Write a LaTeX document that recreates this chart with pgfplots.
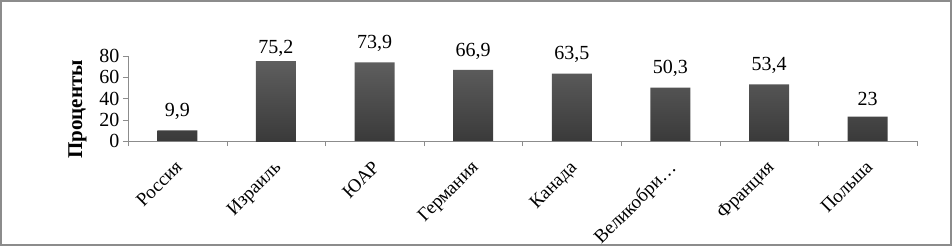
\documentclass[border=0pt]{standalone}
\usepackage{pgfplots}
\pgfplotsset{compat=1.18}
\usepackage{fontspec}
\setmainfont{Liberation Serif}
\definecolor{axgray}{HTML}{8C8C8C}
\definecolor{bartop}{HTML}{5E5E5E}
\definecolor{barbot}{HTML}{3A3A3A}
\begin{document}
\begin{tikzpicture}
\begin{axis}[
  name=ax,
  at={(0,0)}, anchor=south west,
  scale only axis, width=789pt, height=85pt,
  xmin=-0.5, xmax=7.5, ymin=0, ymax=80,
  axis lines*=left,
  axis line style={draw=axgray},
  clip=false,
  /pgf/number format/assume math mode=true,
  ytick={0,20,40,60,80},
  xtick={0,...,7},
  xticklabels={Россия,Израиль,ЮАР,Германия,Канада,Великобри…,Франция,Польша},
  minor xtick={-0.5,0.5,...,7.5},
  tick align=outside,
  major tick length=5pt, minor tick length=5pt,
  major x tick style={draw=none},
  minor x tick style={draw=axgray},
  major y tick style={draw=axgray},
  yticklabel style={font=\fontsize{20}{22}\selectfont},
  xticklabel style={font=\fontsize{19}{22}\selectfont, xshift=-3pt, yshift=-12pt, rotate=45, anchor=north east, inner sep=1pt},
  ylabel={Проценты},
  ylabel style={font=\bfseries\fontsize{21}{24}\selectfont, at={(ticklabel cs:0.37)}},
  ylabel shift=6pt,
  ybar, bar width=40pt,
  nodes near coords={\pgfmathprintnumber[use comma]{\pgfplotspointmeta}},
  nodes near coords style={font=\fontsize{20}{24}\selectfont, black},
]
\addplot[draw=none, top color=bartop, bottom color=barbot, bar shift=0pt,
  nodes near coords style={yshift=7pt}] coordinates {
  (0,9.9) (2,73.9) (3,66.9) (4,63.5) (5,50.3) (6,53.4) (7,23)
};
\addplot[draw=none, top color=bartop, bottom color=barbot, bar shift=0pt,
  nodes near coords style={yshift=1pt}] coordinates {
  (1,75.2)
};
\end{axis}
\pgfresetboundingbox
\useasboundingbox ([shift={(-128pt,-105pt)}]ax.south west) rectangle ([shift={(824pt,141pt)}]ax.south west);
\draw[axgray, line width=2pt] ([shift={(-127pt,-104pt)}]ax.south west) rectangle ([shift={(823pt,140pt)}]ax.south west);
\end{tikzpicture}
\end{document}
